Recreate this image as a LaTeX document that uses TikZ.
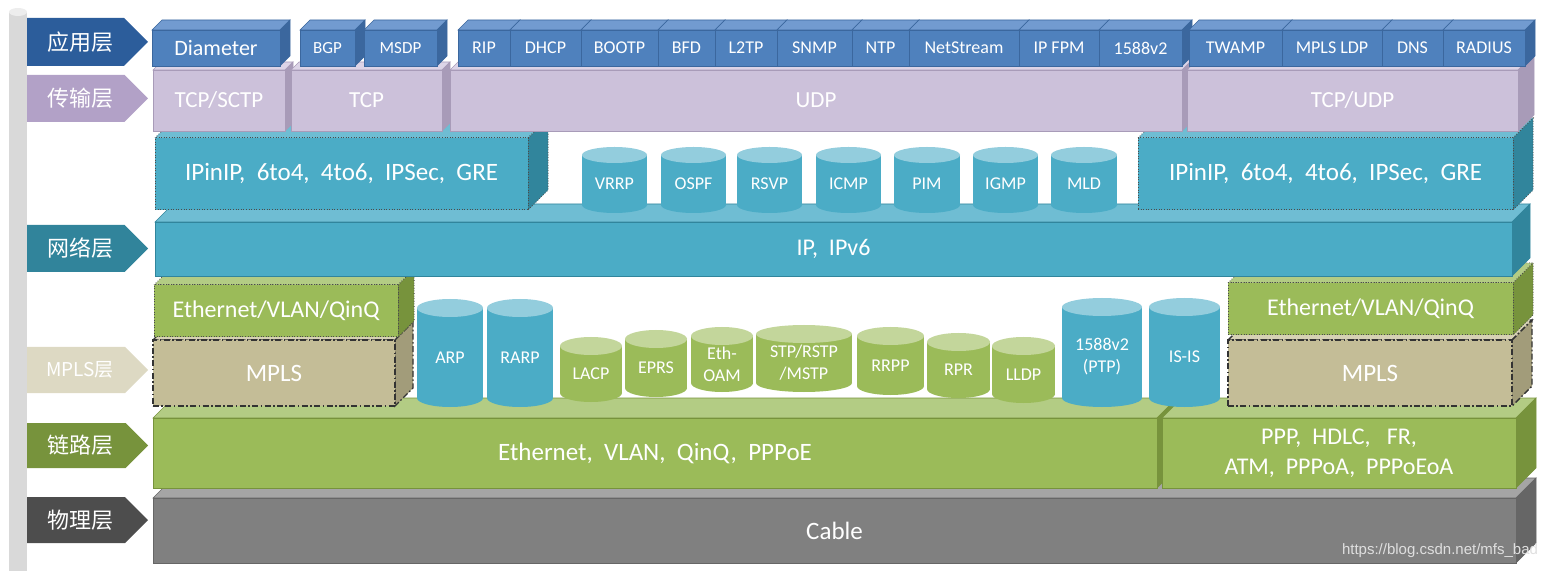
\documentclass[tikz,border=0pt]{standalone}
\usepackage{fontspec}
\setmainfont{Carlito}
\newfontfamily\cjk{Noto Sans CJK SC}
\newfontfamily\wmfont{Liberation Sans}
\definecolor{appfront}{HTML}{4F81BD}
\definecolor{apptop}{HTML}{729BD0}
\definecolor{appside}{HTML}{3B679E}
\definecolor{trnfront}{HTML}{CCC1DA}
\definecolor{trntop}{HTML}{DCD4E7}
\definecolor{trnside}{HTML}{A89BB8}
\definecolor{netfront}{HTML}{4BACC6}
\definecolor{nettop}{HTML}{6FBDD3}
\definecolor{netside}{HTML}{31859C}
\definecolor{netbody}{HTML}{4BACC6}
\definecolor{netcap}{HTML}{93CDDD}
\definecolor{lnkfront}{HTML}{9BBB59}
\definecolor{lnktop}{HTML}{B3CC84}
\definecolor{lnkside}{HTML}{77933C}
\definecolor{lnkbody}{HTML}{9BBB59}
\definecolor{lnkcap}{HTML}{C3D69B}
\definecolor{mplfront}{HTML}{C4BD97}
\definecolor{mpltop}{HTML}{D6D1B5}
\definecolor{mplside}{HTML}{A29C7A}
\definecolor{phyfront}{HTML}{808080}
\definecolor{phytop}{HTML}{A5A5A5}
\definecolor{physide}{HTML}{666666}
\definecolor{tagapp}{HTML}{2C5D9B}
\definecolor{tagtrn}{HTML}{B2A1C7}
\definecolor{tagnet}{HTML}{31849B}
\definecolor{tagmpl}{HTML}{DDD9C3}
\definecolor{taglnk}{HTML}{77933C}
\definecolor{tagphy}{HTML}{4D4D4D}
\definecolor{rail}{HTML}{D9D9D9}
\definecolor{railcap}{HTML}{EDEDED}

% 3D slab: [opts]{name}{x1}{y1}{x2}{y2}{depth}{layer}{text}
\newcommand\slab[9][]{%
  \path[fill=#8top,draw=#8side,line width=0.3pt,#1] (#3,#4) -- ++(#7,-#7) -- ({#5+#7},{#4-#7}) -- (#5,#4) -- cycle;
  \path[fill=#8side,draw=#8side,line width=0.3pt,#1] (#5,#4) -- ({#5+#7},{#4-#7}) -- ({#5+#7},{#6-#7}) -- (#5,#6) -- cycle;
  \node[face,fill=#8front,draw=#8side,line width=0.3pt,
        minimum width={(#5-#3)*0.5pt},minimum height={(#6-#4)*0.5pt},#1]
    (#2) at ({(#3+#5)/2},{(#4+#6)/2}) {#9};
}
% cylinder: [opts]{name}{x1}{x2}{ytop}{ybot}{ry}{layer}{text}
\newcommand\drum[9][]{%
  \fill[#8body] (#3,{#5+#7}) rectangle (#4,{#6-#7});
  \fill[#8body] ({(#3+#4)/2},{#6-#7}) ellipse [x radius={(#4-#3)/2},y radius=#7];
  \fill[#8cap] ({(#3+#4)/2},{#5+#7}) ellipse [x radius={(#4-#3)/2},y radius=#7];
  \node[drumtext,#1] (#2) at ({(#3+#4)/2},{(#5+#6)/2+#7*0.5}) {#9};
}
% layer tag: [opts]{name}{y1}{y2}{colour}{text}
\newcommand\layertag[6][]{%
  \fill[#5] (27,#3) -- ({148-(#4-#3)/2},#3) -- (148,{(#3+#4)/2}) -- ({148-(#4-#3)/2},#4) -- (27,#4) -- cycle;
  \node[tagtext,#1] (#2) at (80,{(#3+#4)/2}) {#6};
}

\begin{document}
\begin{tikzpicture}[x=0.5pt,y=-0.5pt,
  face/.style={inner sep=0pt,outer sep=0pt,text=white,align=center},
  fs/.style={font=\fontsize{#1}{15}\selectfont},
  tagtext/.style={inner sep=0pt,text=white,font=\cjk\fontsize{11}{11}\selectfont},
  drumtext/.style={text=white,align=center,inner sep=0pt,font=\fontsize{9}{11}\selectfont},
  tunnel/.style={draw=black!70,densely dotted,line width=0.5pt},
  mplsline/.style={draw=black!80,dash pattern=on 3pt off 1.2pt on 0.8pt off 1.2pt,line width=0.7pt}
]
\useasboundingbox (0,0) rectangle (1551,571);
% side rail
\fill[rail] (9,12) rectangle (27,571);
\fill[railcap] (18,12) ellipse [x radius=9,y radius=4];
% layer tags
\layertag{tapp}{18}{66}{tagapp}{应用层}
\layertag{ttrn}{75}{122}{tagtrn}{传输层}
\layertag{tnet}{225}{272}{tagnet}{网络层}
\layertag[font=\cjk\fontsize{9.5}{10}\selectfont]{tmpl}{347}{393}{tagmpl}{MPLS层}
\layertag{tlnk}{423}{468}{taglnk}{链路层}
\layertag{tphy}{497}{543}{tagphy}{物理层}
% physical and link layer
\slab[fs=12.5]{cable}{153}{498}{1516}{563}{20}{phy}{Cable}
\slab[fs=12.5]{ether}{153}{418}{1157}{488}{20}{lnk}{Ethernet,~~VLAN,~~QinQ,~~PPPoE}
\slab[fs=12]{wan}{1162}{418}{1516}{488}{20}{lnk}{PPP,~~HDLC,~~~FR,\\ATM,~~PPPoA,~~PPPoEoA}
% MPLS
\slab[fs=12.5,mplsline]{mplsL}{153}{340}{395}{406}{18}{mpl}{MPLS}
\slab[fs=12.5,mplsline]{mplsR}{1228}{340}{1512}{406}{20}{mpl}{MPLS}
\slab[fs=12,tunnel]{vlanL}{154}{285}{398}{337}{16}{lnk}{Ethernet/VLAN/QinQ}
\slab[fs=12,tunnel]{vlanR}{1228}{283}{1513}{335}{20}{lnk}{Ethernet/VLAN/QinQ}
% link layer protocols
\drum{arp}{417}{483}{299}{407}{9}{net}{ARP}
\drum{rarp}{487}{553}{299}{407}{9}{net}{RARP}
\drum{lacp}{560}{622}{337}{402}{9}{lnk}{LACP}
\drum{eprs}{625}{687}{330}{397}{9}{lnk}{EPRS}
\drum{ethoam}{691}{753}{327}{392}{9}{lnk}{Eth-\\OAM}
\drum{stp}{756}{852}{325}{392}{9}{lnk}{STP/RSTP\\/MSTP}
\drum{rrpp}{857}{924}{327}{395}{9}{lnk}{RRPP}
\drum{rpr}{927}{990}{333}{398}{9}{lnk}{RPR}
\drum{lldp}{992}{1055}{337}{403}{9}{lnk}{LLDP}
\drum{ptp}{1062}{1142}{298}{407}{9}{net}{1588v2\\(PTP)}
\drum{isis}{1149}{1220}{298}{407}{9}{net}{IS-IS}
% network layer
\slab[fs=12]{ip}{155}{222}{1512}{276}{18}{net}{IP,~~IPv6}
\slab[fs=12.5,tunnel]{tunL}{155}{138}{528}{210}{20}{net}{IPinIP,~~6to4,~~4to6,~~IPSec,~~GRE}
\slab[fs=12.5,tunnel]{tunR}{1138}{138}{1513}{210}{20}{net}{IPinIP,~~6to4,~~4to6,~~IPSec,~~GRE}
\drum{vrrp}{582}{647}{147}{213}{8}{net}{VRRP}
\drum{ospf}{661}{726}{147}{213}{8}{net}{OSPF}
\drum{rsvp}{737}{802}{147}{213}{8}{net}{RSVP}
\drum{icmp}{816}{881}{147}{213}{8}{net}{ICMP}
\drum{pim}{894}{960}{147}{213}{8}{net}{PIM}
\drum{igmp}{973}{1038}{147}{213}{8}{net}{IGMP}
\drum{mld}{1051}{1117}{147}{213}{8}{net}{MLD}
% transport layer
\slab[fs=11.5]{sctp}{153}{70}{285}{131}{8}{trn}{TCP/SCTP}
\slab[fs=11.5]{tcp}{291}{70}{442}{131}{8}{trn}{TCP}
\slab[fs=11.5]{udp}{450}{70}{1182}{131}{10}{trn}{UDP}
\slab[fs=11.5]{tcpudp}{1187}{70}{1518}{131}{16}{trn}{TCP/UDP}
% application layer
\slab[fs=11]{diam}{152}{30}{280}{66}{10}{app}{Diameter}
\slab[fs=8.5]{bgp}{300}{30}{355}{66}{10}{app}{BGP}
\slab[fs=8.5]{msdp}{364}{30}{437}{66}{10}{app}{MSDP}
\slab[fs=9]{rip}{458}{30}{510}{66}{10}{app}{RIP}
\slab[fs=9]{dhcp}{510}{30}{581}{66}{10}{app}{DHCP}
\slab[fs=9]{bootp}{581}{30}{658}{66}{10}{app}{BOOTP}
\slab[fs=9]{bfd}{658}{30}{715}{66}{10}{app}{BFD}
\slab[fs=9]{ltp}{715}{30}{777}{66}{10}{app}{L2TP}
\slab[fs=9]{snmp}{777}{30}{852}{66}{10}{app}{SNMP}
\slab[fs=9]{ntp}{852}{30}{909}{66}{10}{app}{NTP}
\slab[fs=9]{nstream}{909}{30}{1019}{66}{10}{app}{NetStream}
\slab[fs=9]{ipfpm}{1019}{30}{1099}{66}{10}{app}{IP FPM}
\slab[fs=9]{ptpapp}{1099}{30}{1182}{66}{10}{app}{1588v2}
\slab[fs=9]{twamp}{1189}{30}{1282}{66}{10}{app}{TWAMP}
\slab[fs=9]{ldp}{1282}{30}{1382}{66}{10}{app}{MPLS LDP}
\slab[fs=9]{dns}{1382}{30}{1443}{66}{10}{app}{DNS}
\slab[fs=9]{radius}{1443}{30}{1525}{66}{10}{app}{RADIUS}
% watermark
\node[font=\wmfont\fontsize{7.5}{8}\selectfont,text=gray!25] (wm) at (1440,551) {https://blog.csdn.net/mfs\_bad};
\end{tikzpicture}
\end{document}
